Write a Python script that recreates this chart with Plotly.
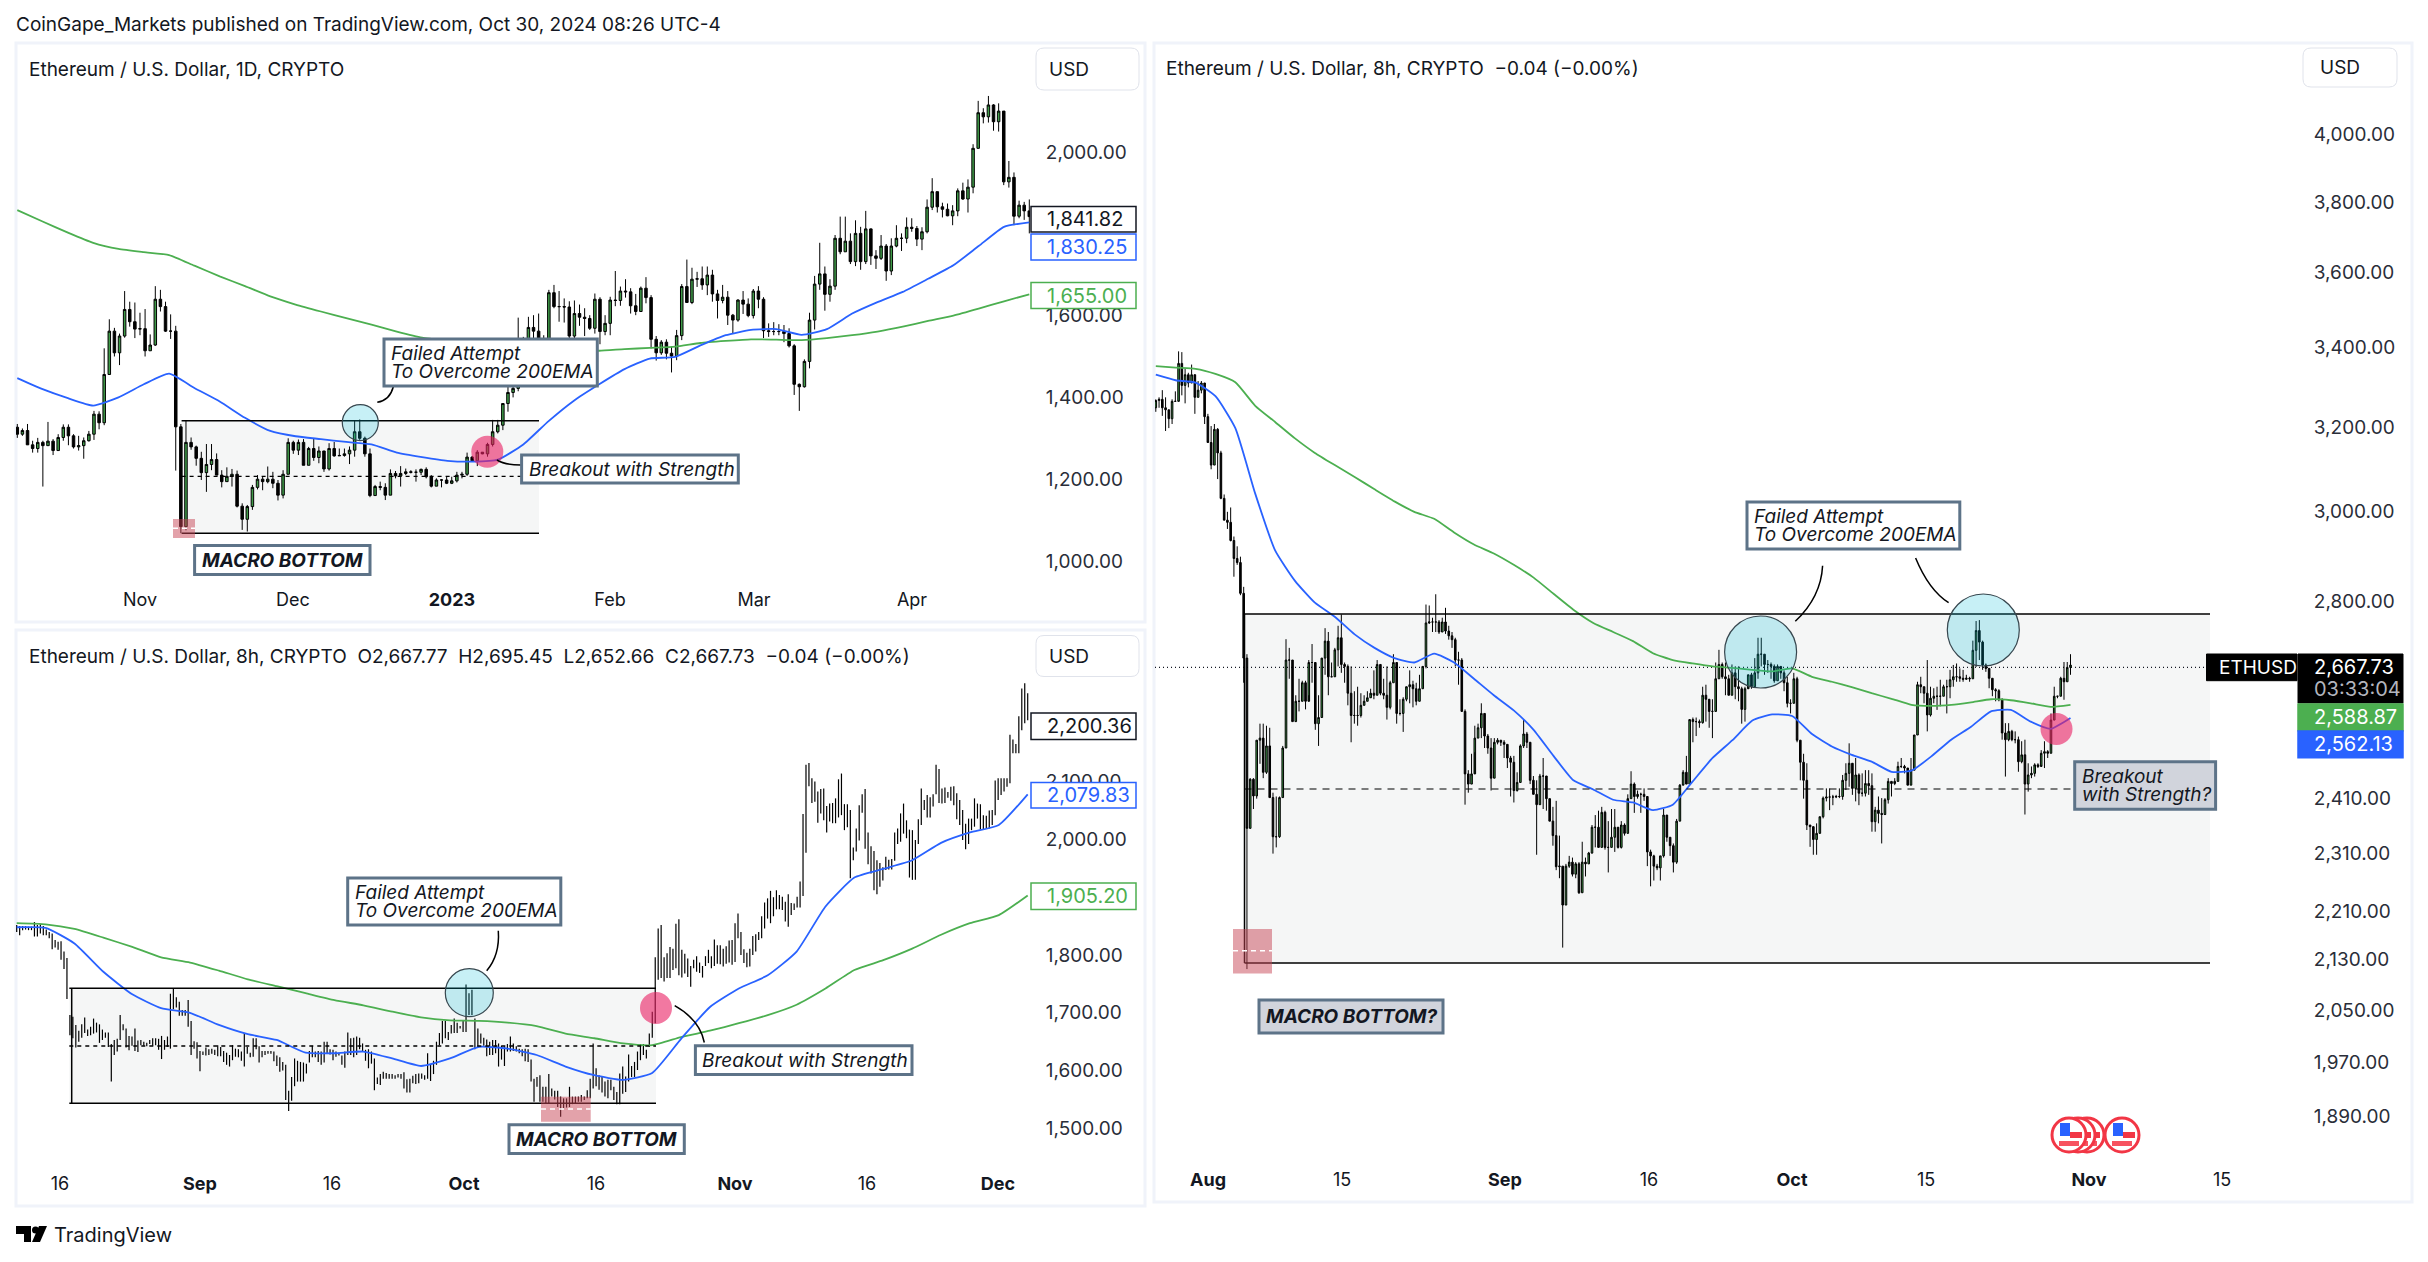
import numpy as np
import plotly.graph_objects as go

W, H = 2428, 1262
font_name = 'Inter, Liberation Sans, sans-serif'
text_color = '#131722'
axis_color = '#2a2e39'
blue = '#2962ff'
green = '#4caf50'
candle_green = '#3f9a48'

# left chart, daily candles (Oct 2022 - Apr 2023)
d1_first_open = 1327
d1_close = [1310,1319,1284,1275,1290,1282,1293,1270,1302,1327,1306,1279,1282,1294,1310,1359,1338,1456,1562,1509,1550,1615,1585,1567,1568,1514,1528,1640,1622,1562,1562,1328,1084,1290,1279,1251,1216,1236,1248,1210,1194,1207,1212,1134,1102,1133,1180,1200,1194,1200,1190,1161,1212,
            1290,1271,1290,1234,1275,1253,1269,1225,1275,1257,1258,1262,1271,1316,1300,1262,1160,1182,1180,1161,1214,1208,1214,1218,1217,1217,1224,1206,1183,1198,1198,1190,1196,1210,1212,1254,1245,1266,1262,1285,1316,1332,1385,1412,1422,1450,1540,1571,1562,1530,1542,
            1656,1622,1622,1621,1550,1605,1596,1593,1569,1640,1561,1581,1638,1637,1660,1658,1624,1610,1667,1644,1542,1509,1535,1508,1501,1551,1671,1632,1689,1690,1675,1699,1653,1637,1645,1601,1589,1638,1628,1600,1660,1640,1563,1561,1561,1561,1556,1526,1432,1426,1488,1589,1677,1702,1652,1672,1789,1756,1782,1732,1801,1732,1812,1746,1740,1770,1709,1770,1789,1789,1816,1813,1787,1805,1865,1903,1866,1860,1844,1856,1905,1885,1914,2009,2096,2086,2115,2074,2100,1927,1938,1843,1870,1856,1842]
d1_high = [1335,1324,1335,1294,1301,1294,1340,1298,1310,1334,1334,1310,1306,1302,1318,1367,1366,1520,1591,1570,1556,1660,1634,1632,1607,1616,1554,1672,1663,1634,1603,1575,1335,1343,1302,1282,1267,1286,1286,1263,1222,1229,1225,1221,1141,1137,1186,1210,1206,1231,1218,1198,1222,
           1300,1294,1297,1298,1279,1300,1280,1269,1288,1291,1275,1275,1280,1343,1346,1304,1275,1186,1194,1190,1224,1220,1232,1226,1222,1224,1226,1229,1210,1202,1200,1206,1206,1218,1218,1265,1257,1271,1266,1289,1345,1345,1385,1426,1430,1595,1548,1597,1601,1605,1552,
           1663,1675,1660,1642,1635,1637,1627,1618,1601,1654,1645,1601,1646,1709,1671,1689,1667,1653,1671,1694,1650,1550,1540,1542,1524,1565,1677,1737,1717,1707,1720,1720,1712,1663,1675,1660,1604,1640,1660,1642,1665,1672,1645,1581,1584,1579,1577,1569,1530,1434,1493,1607,1697,1778,1720,1689,1797,1842,1842,1801,1833,1817,1856,1813,1760,1797,1775,1789,1821,1801,1840,1838,1819,1816,1884,1936,1903,1876,1874,1870,1911,1925,1933,2019,2125,2107,2137,2117,2119,2100,1978,1950,1881,1878,1884]
d1_low = [1301,1306,1284,1265,1265,1182,1282,1259,1270,1294,1283,1275,1270,1250,1292,1296,1322,1332,1456,1500,1479,1546,1573,1545,1552,1500,1514,1526,1610,1560,1543,1221,1068,1075,1272,1233,1198,1169,1222,1210,1180,1194,1182,1131,1076,1072,1125,1175,1173,1190,1178,1148,1153,
          1212,1262,1259,1234,1234,1245,1239,1218,1221,1255,1257,1255,1237,1255,1296,1255,1156,1160,1173,1149,1161,1202,1182,1210,1214,1194,1210,1202,1180,1183,1180,1188,1188,1192,1202,1208,1243,1232,1261,1255,1280,1312,1320,1365,1400,1415,1445,1520,1530,1515,1520,
          1520,1618,1585,1583,1545,1545,1575,1550,1565,1556,1530,1552,1552,1623,1624,1644,1605,1601,1610,1630,1520,1490,1504,1493,1461,1491,1540,1632,1628,1670,1663,1650,1634,1593,1630,1577,1555,1585,1604,1596,1593,1618,1545,1548,1552,1552,1535,1522,1406,1367,1424,1471,1566,1663,1612,1634,1663,1750,1756,1726,1721,1712,1726,1724,1714,1736,1685,1699,1767,1758,1777,1805,1770,1760,1801,1858,1852,1840,1843,1821,1843,1883,1852,1899,2008,2070,2072,2052,2050,1919,1913,1821,1838,1834,1801]
d1_ema50 = [1447,1420,1398,1380,1400,1432,1458,1423,1390,1350,1318,1305,1298,1291,1285,1265,1254,1245,1243,1248,1285,1342,1392,1432,1469,1495,1499,1527,1552,1565,1567,1553,1567,1605,1633,1658,1690,1723,1770,1817,1828]
d1_ema200 = [1858,1830,1803,1778,1763,1755,1748,1722,1696,1672,1647,1627,1610,1594,1578,1561,1546,1538,1531,1525,1520,1517,1514,1514,1518,1521,1524,1533,1538,1542,1541,1540,1545,1552,1561,1573,1587,1600,1617,1635,1652]
d1_ticks = [1000, 1200, 1400, 1600, 2000]
d1_tick_labels = ['Nov', 'Dec', '<b>2023</b>', 'Feb', 'Mar', 'Apr']
d1_tick_px = [140, 293, 452, 610, 754, 912]

# bottom left chart, 8h thin bars (Aug - Dec 2023)
h8_high = [1852,1850,1850,1850,1849,1849,1857,1852,1853,1850,1844,1840,1837,1826,1823,1824,1806,1795,1696,1693,1679,1669,1680,1692,1671,1676,1690,1683,1680,1671,1666,1666,1646,1653,1655,1696,1680,1673,1660,1659,1673,1652,1653,1650,1648,1653,1656,1656,1655,1660,1653,1659,1733,1742,1727,1719,1705,1705,1722,1686,1651,1649,1634,1633,1640,1637,1638,1636,1644,1641,1634,1631,1627,1644,1638,1637,1633,1665,1641,1631,1656,1656,1642,1634,1634,1634,1634,1633,1626,1623,1615,1610,1565,1589,1621,1617,1615,1614,1612,1634,1643,1633,1634,1633,1650,1650,1637,1636,1633,1631,1626,
           1633,1666,1656,1657,1659,1657,1647,1636,1637,1633,1621,1588,1594,1598,1596,1594,1594,1592,1594,1594,1597,1585,1586,1591,1594,1595,1595,1592,1630,1610,1617,1650,1665,1686,1686,1667,1679,1690,1683,1677,1687,1749,1734,1740,1690,1673,1664,1657,1654,1650,1653,1653,1647,1643,1642,1646,1659,1647,1642,1638,1637,1638,1637,1619,1586,1589,1592,1572,1572,1594,1569,1565,1565,1555,1552,1552,1572,1555,1555,1555,1558,1555,1566,1586,1647,1604,1592,1589,1581,1584,1584,1572,1563,1595,1607,1590,1628,1608,1615,1633,1646,1646,1636,1664,1702,1796,1846,1852,
           1796,1803,1814,1811,1854,1862,1809,1802,1794,1781,1792,1798,1787,1781,1798,1809,1798,1827,1817,1817,1811,1815,1825,1826,1855,1872,1840,1810,1804,1811,1833,1836,1840,1867,1891,1898,1911,1900,1912,1904,1901,1892,1905,1890,1889,1901,1927,2044,2129,2132,2106,2100,2083,2087,2088,2058,2062,2063,2071,2104,2114,2061,2061,2051,1986,2019,2059,2078,2087,2012,1988,1980,1964,1959,1952,1970,1965,1966,2012,2019,2045,2062,2033,2017,2016,1999,2035,2088,2068,2077,2073,2078,2129,2122,2088,2090,2082,2091,2092,2080,2068,2051,2027,2036,2036,2071,2062,2061,2042,2041,2050,2051,2102,2106,2106,2106,2106,2181,2173,2165,2213,2261,2270,2253]
h8_low = [1840,1834,1843,1844,1843,1843,1832,1832,1837,1834,1834,1829,1810,1813,1809,1792,1776,1724,1661,1656,1640,1650,1657,1665,1660,1661,1664,1666,1648,1653,1657,1641,1581,1627,1633,1653,1670,1640,1635,1643,1634,1632,1644,1643,1642,1646,1643,1644,1636,1620,1636,1641,1638,1706,1709,1695,1695,1695,1676,1627,1638,1621,1599,1627,1626,1627,1629,1627,1625,1625,1615,1610,1607,1618,1624,1623,1617,1607,1629,1623,1624,1637,1614,1623,1627,1629,1629,1616,1608,1598,1600,1549,1530,1548,1573,1581,1581,1581,1595,1614,1623,1623,1615,1610,1614,1630,1628,1618,1624,1626,1610,
          1605,1627,1627,1623,1627,1637,1633,1617,1604,1612,1566,1577,1575,1586,1586,1586,1586,1586,1588,1586,1569,1562,1562,1578,1577,1578,1586,1584,1586,1582,1594,1610,1644,1647,1656,1653,1664,1665,1665,1673,1667,1667,1696,1696,1637,1641,1647,1643,1625,1627,1627,1630,1607,1619,1608,1633,1633,1634,1633,1630,1625,1616,1615,1581,1546,1572,1546,1546,1543,1543,1555,1550,1537,1520,1535,1536,1537,1542,1543,1546,1546,1549,1552,1552,1569,1573,1567,1562,1555,1552,1566,1549,1542,1542,1560,1563,1581,1589,1589,1601,1618,1627,1621,1641,1657,1682,1757,1760,
          1754,1760,1760,1774,1777,1765,1761,1768,1762,1745,1777,1771,1769,1761,1781,1786,1777,1781,1785,1784,1780,1785,1787,1783,1788,1829,1800,1786,1779,1780,1800,1806,1826,1829,1846,1863,1855,1867,1879,1879,1878,1858,1849,1869,1878,1882,1882,1902,1977,2092,2063,2065,2029,2045,2033,2012,2031,2028,2028,2038,2042,2016,2021,1933,1964,1979,1998,2046,1984,1957,1941,1912,1905,1918,1929,1947,1948,1948,1963,1992,1996,2010,2002,1934,1930,1930,1992,2025,2051,2038,2038,2057,2078,2063,2062,2063,2072,2067,2059,2035,2025,1999,1983,1992,2016,2022,2036,2017,2017,2019,2019,2025,2042,2068,2077,2083,2091,2097,2149,2149,2149,2189,2201,2206]
h8_ema50 = [1848,1847,1820,1771,1732,1708,1700,1679,1663,1653,1631,1630,1633,1621,1608,1621,1641,1638,1627,1607,1592,1584,1596,1655,1710,1742,1765,1806,1884,1934,1949,1964,1994,2012,2025,2078]
h8_ema200 = [1855,1853,1845,1830,1814,1796,1787,1773,1758,1746,1734,1722,1713,1702,1692,1687,1686,1683,1677,1664,1656,1647,1644,1658,1669,1682,1696,1714,1742,1774,1791,1811,1835,1855,1869,1903]
h8_ticks = [1500, 1600, 1700, 1800, 2000, 2100]
h8_tick_labels = ['16', '<b>Sep</b>', '16', '<b>Oct</b>', '16', '<b>Nov</b>', '16', '<b>Dec</b>']
h8_tick_px = [60, 200, 332, 464, 596, 735, 867, 998]

# right chart, 8h candles (Jul - Oct 2024)
r8_first_open = 3247
r8_close = [3265,3268,3247,3242,3220,3263,3263,3359,3303,3330,3309,3330,3273,3291,3309,3225,3162,3108,3194,3137,3030,2980,2975,2934,2894,2885,2818,2682,2355,2445,2414,2519,2523,2458,2508,2411,2340,2340,2411,2504,2678,2678,2555,2595,2595,2632,2595,2673,2673,2551,2563,2682,2717,2644,2644,2699,2724,2669,2665,2611,2567,2567,2567,2587,2595,2602,2611,2607,2669,2611,2607,2583,2632,2673,2571,2571,2599,2624,2628,2620,2595,2620,2665,2755,2757,2757,2757,2736,2757,2738,2728,2720,2678,2678,2575,2455,2436,2455,2523,2543,2571,2527,2504,2447,2515,2519,2515,2511,2485,2477,2424,2439,2508,2531,2515,2443,2417,2398,2451,2451,2409,2368,2342,2287,2288,2221,2288,2295,2274,2292,2242,2295,2292,2311,2357,2357,2321,2384,2321,2321,2339,2357,2321,2361,2346,2409,2436,2413,2417,2417,2413,2313,2306,2288,2285,2306,2379,2339,2324,2295,2368,2434,2458,2436,2559,2555,2555,2553,2607,2599,2575,2575,2640,2669,2644,2640,2607,2652,2624,2620,2579,2620,2648,2624,2652,2690,2690,2669,2669,2665,2636,2665,2652,2632,2591,2591,2640,2519,2477,2443,
            2361,2358,2335,2346,2376,2410,2412,2412,2412,2413,2413,2443,2456,2475,2428,2453,2419,2419,2437,2433,2367,2388,2382,2380,2407,2441,2437,2441,2469,2469,2466,2434,2462,2529,2628,2624,2611,2568,2601,2605,2605,2605,2624,2624,2638,2644,2644,2641,2639,2641,2640,2698,2739,2715,2668,2661,2641,2618,2616,2598,2533,2520,2536,2520,2520,2478,2491,2436,2453,2456,2472,2469,2494,2497,2494,2558,2605,2605,2641,2634,2663,2667.73]
r8_high = [3268,3273,3291,3273,3242,3268,3288,3390,3388,3345,3335,3356,3314,3314,3314,3303,3232,3202,3207,3197,3142,3039,2999,3009,2943,2921,2898,2832,2690,2447,2447,2519,2551,2551,2547,2543,2420,2413,2413,2508,2721,2703,2673,2607,2640,2636,2636,2678,2711,2607,2607,2682,2744,2736,2673,2703,2749,2773,2673,2669,2665,2615,2624,2611,2607,2615,2620,2657,2678,2669,2640,2665,2636,2690,2673,2599,2603,2624,2657,2636,2632,2648,2665,2794,2792,2766,2816,2761,2766,2787,2749,2736,2724,2695,2682,2579,2462,2493,2547,2551,2591,2571,2531,2523,2523,2523,2519,2519,2511,2489,2489,2458,2511,2559,2535,2515,2451,2443,2455,2485,2447,2409,2394,2405,2342,2288,2292,2306,2303,2295,2295,2331,2303,2313,2361,2379,2387,2394,2387,2368,2390,2390,2357,2368,2364,2417,2460,2439,2424,2420,2428,2413,2317,2308,2292,2306,2390,2379,2339,2328,2372,2436,2462,2489,2559,2563,2563,2559,2624,2628,2587,2599,2673,2699,2673,2673,2648,2669,2665,2665,2624,2624,2648,2652,2682,2724,2724,2690,2678,2673,2669,2669,2665,2657,2644,2599,2652,2644,2519,2493,
           2475,2361,2352,2364,2376,2413,2428,2428,2416,2416,2428,2453,2475,2513,2472,2485,2456,2456,2462,2462,2456,2394,2413,2410,2410,2447,2441,2447,2478,2485,2472,2466,2485,2529,2634,2644,2624,2678,2624,2621,2624,2638,2628,2638,2658,2668,2671,2661,2658,2648,2644,2718,2759,2761,2718,2671,2661,2641,2621,2619,2601,2552,2552,2539,2536,2526,2517,2520,2475,2469,2475,2475,2500,2517,2500,2571,2624,2605,2644,2674,2674,2690]
r8_low = [3237,3247,3227,3190,3197,3207,3263,3265,3278,3258,3298,3314,3232,3273,3283,3207,3162,3098,3108,3075,3028,2980,2960,2932,2854,2880,2814,2632,2115,2355,2390,2409,2474,2447,2455,2411,2310,2321,2338,2411,2504,2640,2555,2555,2575,2595,2579,2607,2632,2539,2508,2563,2648,2607,2644,2644,2665,2652,2632,2587,2515,2551,2547,2563,2587,2595,2603,2599,2607,2607,2599,2559,2579,2632,2551,2567,2535,2595,2591,2583,2587,2595,2620,2661,2753,2736,2736,2732,2736,2732,2720,2703,2665,2628,2575,2398,2420,2436,2496,2523,2523,2504,2493,2424,2447,2511,2508,2485,2466,2413,2402,2422,2439,2504,2504,2436,2417,2308,2398,2390,2387,2368,2324,2281,2267,2150,2221,2285,2270,2267,2240,2242,2270,2292,2310,2321,2321,2321,2317,2277,2321,2313,2319,2319,2342,2346,2409,2383,2409,2383,2405,2288,2253,2263,2281,2263,2303,2331,2306,2277,2292,2368,2436,2436,2436,2515,2527,2543,2551,2555,2543,2523,2575,2640,2640,2607,2607,2607,2599,2595,2551,2555,2624,2620,2624,2640,2665,2648,2652,2640,2632,2636,2640,2615,2583,2571,2591,2515,2443,2409,
          2352,2322,2308,2308,2346,2373,2404,2388,2397,2410,2410,2407,2425,2431,2416,2404,2397,2413,2413,2416,2349,2349,2364,2328,2379,2400,2413,2434,2441,2466,2456,2434,2434,2462,2529,2611,2591,2536,2565,2591,2578,2585,2605,2571,2601,2624,2634,2634,2634,2638,2634,2640,2664,2678,2658,2654,2621,2605,2595,2595,2520,2450,2517,2517,2513,2459,2475,2380,2422,2447,2450,2466,2472,2466,2485,2494,2558,2601,2605,2598,2634,2648]
r8_ema50 = [3330,3316,3310,3276,3197,3041,2912,2845,2798,2768,2731,2703,2682,2673,2691,2673,2640,2607,2577,2539,2489,2443,2426,2407,2402,2388,2398,2441,2485,2519,2557,2569,2566,2531,2507,2491,2478,2459,2461,2488,2520,2545,2575,2578,2555,2541,2562]
r8_ema200 = [3352,3348,3345,3332,3311,3252,3212,3172,3137,3108,3080,3051,3023,2999,2983,2952,2925,2905,2880,2852,2817,2783,2755,2736,2717,2692,2678,2671,2665,2662,2658,2655,2661,2644,2634,2623,2611,2600,2588,2586,2588,2593,2599,2597,2591,2584,2588]
r8_ticks = [4000, 3800, 3600, 3400, 3200, 3000, 2800, 2410, 2310, 2210, 2130, 2050, 1970, 1890]
r8_tick_labels = ['<b>Aug</b>', '15', '<b>Sep</b>', '16', '<b>Oct</b>', '15', '<b>Nov</b>', '15']
r8_tick_px = [1208, 1342, 1505, 1649, 1792, 1926, 2089, 2222]


def X(px):
    return px / W


def Y(px):
    return 1 - px / H


shapes = []
annotations = []


def rect(x0, y0, x1, y1, fill='rgba(0,0,0,0)', line='rgba(0,0,0,0)', width=0, layer='above'):
    shapes.append(dict(type='rect', xref='paper', yref='paper', x0=X(x0), x1=X(x1), y0=Y(y0), y1=Y(y1),
                       fillcolor=fill, line=dict(color=line, width=width), layer=layer))


def circle(cx, cy, r, fill, line='rgba(0,0,0,0)', width=0):
    shapes.append(dict(type='circle', xref='paper', yref='paper', x0=X(cx - r), x1=X(cx + r), y0=Y(cy - r), y1=Y(cy + r),
                       fillcolor=fill, line=dict(color=line, width=width), layer='above'))


def hline(x0, x1, y, color='#000000', width=1.5, dash='solid', layer='above'):
    shapes.append(dict(type='line', xref='paper', yref='paper', x0=X(x0), x1=X(x1), y0=Y(y), y1=Y(y),
                       line=dict(color=color, width=width, dash=dash), layer=layer))


def vline(x, y0, y1, color='#000000', width=1.5):
    shapes.append(dict(type='line', xref='paper', yref='paper', x0=X(x), x1=X(x), y0=Y(y0), y1=Y(y1),
                       line=dict(color=color, width=width), layer='above'))


def curve(x0, y0, cx, cy, x1, y1):
    path = f'M {X(x0)} {Y(y0)} Q {X(cx)} {Y(cy)} {X(x1)} {Y(y1)}'
    shapes.append(dict(type='path', xref='paper', yref='paper', path=path, line=dict(color='#000000', width=1.5), layer='above'))


def text(x, y, s, size=19, color=text_color, anchor='left', align='left'):
    annotations.append(dict(xref='paper', yref='paper', x=X(x), y=Y(y), text=s, showarrow=False, xanchor=anchor, yanchor='middle',
                            align=align, font=dict(size=size, color=color, family=font_name)))


def note(x0, y0, x1, y1, lines, fill='#ffffff', size=19, pad=5, bold=False):
    rect(x0, y0, x1, y1, fill=fill, line='#5d7388', width=3)
    mid = (y0 + y1) / 2
    for k, s in enumerate(lines):
        s = f'<i>{s}</i>'
        if bold:
            s = f'<b>{s}</b>'
        text(x0 + pad, mid + (k - (len(lines) - 1) / 2) * 18.5, s, size=size, color='#131722')


def tag(x0, y0, x1, y1, s, color, fill='#ffffff', border=None):
    rect(x0, y0, x1, y1, fill=fill, line=border or color, width=1.5)
    text(x0 + 14, (y0 + y1) / 2, s, size=20, color=color)


def usd_box(x0, y0, x1, y1, tx):
    r = 8
    path = (f'M {X(x0 + r)} {Y(y0)} L {X(x1 - r)} {Y(y0)} Q {X(x1)} {Y(y0)} {X(x1)} {Y(y0 + r)} L {X(x1)} {Y(y1 - r)} '
            f'Q {X(x1)} {Y(y1)} {X(x1 - r)} {Y(y1)} L {X(x0 + r)} {Y(y1)} Q {X(x0)} {Y(y1)} {X(x0)} {Y(y1 - r)} '
            f'L {X(x0)} {Y(y0 + r)} Q {X(x0)} {Y(y0)} {X(x0 + r)} {Y(y0)} Z')
    shapes.append(dict(type='path', xref='paper', yref='paper', path=path, line=dict(color='#e0e3eb', width=1), fillcolor='#ffffff', layer='above'))
    text(tx, (y0 + y1) / 2, 'USD', size=19)


def flag(cx, cy):
    r = 17
    circle(cx, cy, r, '#ffffff', '#f23645', 3)
    rect(cx - 9, cy - 12, cx + 1, cy + 1, fill='#2962ff')
    rect(cx + 1, cy - 3, cx + 13, cy + 3, fill='#f23645')
    rect(cx - 10, cy + 6, cx + 10, cy + 11, fill='#f7525f')


def x_view(first_px, last_px, n, left_px, right_px, tick_px):
    # TradingView's time axis is spaced by bars, so the axis runs on bar numbers
    pitch = (last_px - first_px) / (n - 1)
    view = [(left_px - first_px) / pitch, (right_px - first_px) / pitch]
    ticks = [(p - first_px) / pitch for p in tick_px]
    return view, ticks


def opens(first_open, close):
    return [first_open] + close[:-1]


def candles(close, high, low, first_open, xaxis, yaxis):
    return go.Candlestick(x=np.arange(len(close)), open=opens(first_open, close), high=high, low=low, close=close,
                          xaxis=xaxis, yaxis=yaxis, whiskerwidth=0, showlegend=False,
                          increasing=dict(fillcolor=candle_green, line=dict(color='#000000', width=1)),
                          decreasing=dict(fillcolor='#000000', line=dict(color='#000000', width=1)))


def ema(values, n, color, xaxis, yaxis):
    return go.Scatter(x=np.linspace(0, n - 1, len(values)), y=values, mode='lines', line=dict(color=color, width=1.8, shape='spline', smoothing=0.5),
                      xaxis=xaxis, yaxis=yaxis, showlegend=False, hoverinfo='skip')


fig = go.Figure()

n1 = min(len(d1_close), len(d1_high), len(d1_low))
fig.add_trace(candles(d1_close[:n1], d1_high[:n1], d1_low[:n1], d1_first_open, 'x', 'y'))
fig.add_trace(ema(d1_ema200, n1, green, 'x', 'y'))
fig.add_trace(ema(d1_ema50, n1, blue, 'x', 'y'))

n2 = min(len(h8_high), len(h8_low))
bar_x, bar_y = [], []
for i in range(n2):
    bar_x += [i, i, None]
    bar_y += [h8_low[i], h8_high[i], None]
fig.add_trace(go.Scatter(x=bar_x, y=bar_y, mode='lines', line=dict(color='#000000', width=1.2), xaxis='x2', yaxis='y2',
                         showlegend=False, hoverinfo='skip', connectgaps=False))
fig.add_trace(ema(h8_ema200, n2, green, 'x2', 'y2'))
fig.add_trace(ema(h8_ema50, n2, blue, 'x2', 'y2'))

n3 = min(len(r8_close), len(r8_high), len(r8_low))
fig.add_trace(candles(r8_close[:n3], r8_high[:n3], r8_low[:n3], r8_first_open, 'x3', 'y3'))
fig.add_trace(ema(r8_ema200, n3, green, 'x3', 'y3'))
fig.add_trace(ema(r8_ema50, n3, blue, 'x3', 'y3'))

circle_fill = 'rgba(0,188,212,0.22)'
pink_fill = 'rgba(233,30,99,0.6)'
box_fill = 'rgba(120,123,134,0.07)'
red_fill = 'rgba(200,70,85,0.5)'
failed = ['Failed Attempt', 'To Overcome 200EMA']

# panel frames
rect(16, 43, 1145, 622, line='#f0f3fa', width=3, layer='below')
rect(16, 630, 1145, 1206, line='#f0f3fa', width=3, layer='below')
rect(1154, 43, 2412, 1202, line='#f0f3fa', width=3, layer='below')

# left chart drawings
rect(181.6, 420.7, 539, 533.3, fill=box_fill, layer='below')
hline(181.6, 539, 420.7)
hline(181.6, 539, 533.3)
hline(181.6, 522, 476.3, width=1.3, dash='4px,4px')
rect(173, 519, 195, 538, fill=red_fill)
hline(173, 195, 528.3, color='#ffffff', width=1.5, dash='5px,4px')
circle(360.3, 422.7, 18, circle_fill, '#37474f', 1.2)
circle(487.3, 451.7, 16, pink_fill)
curve(377.3, 402.3, 390, 400, 393.3, 386.7)
curve(497, 460, 505, 465, 520.7, 465)
note(384, 339, 597.3, 386, failed)
note(521.6, 455, 738.3, 483, ['Breakout with Strength'])
note(194.6, 545.6, 370, 574.6, ['MACRO BOTTOM'], bold=True)

# bottom left chart drawings
rect(69.3, 988.3, 656, 1103.3, fill=box_fill, layer='below')
hline(69.3, 656, 988.3)
hline(69.3, 656, 1103.3)
vline(71.7, 988.3, 1103.3)
hline(69.3, 656, 1046, width=1.5, dash='4px,4px')
rect(541, 1096.7, 590.7, 1121.7, fill=red_fill)
hline(541, 590.7, 1109, color='#ffffff', width=1.5, dash='5px,4px')
circle(469.3, 992.7, 24, circle_fill, '#37474f', 1.2)
circle(656, 1008, 16, pink_fill)
curve(498.3, 930.7, 500, 955, 486.7, 970.7)
curve(674.7, 1005.7, 700, 1020, 704.3, 1042.5)
note(347.7, 878, 560.8, 925, failed)
note(695.4, 1045.8, 912, 1074.4, ['Breakout with Strength'])
note(509, 1124.8, 684.3, 1153.4, ['MACRO BOTTOM'], bold=True)

# right chart drawings
rect(1244.5, 614, 2210, 963, fill=box_fill, layer='below')
hline(1244.5, 2210, 614)
hline(1244.5, 2210, 963)
vline(1244.5, 614, 963)
hline(1244.5, 2075, 789, width=1.1, dash='7px,6px')
hline(1155, 2206, 667.3, color='#131722', width=1.3, dash='1px,3px', layer='below')
rect(1233, 929, 1272, 973.6, fill=red_fill)
hline(1233, 1272, 950.8, color='#ffffff', width=1.5, dash='5px,4px')
circle(1760.6, 652, 36, circle_fill, '#37474f', 1.2)
circle(1983.3, 630, 36, circle_fill, '#37474f', 1.2)
circle(2056.5, 729, 16, pink_fill)
curve(1822.6, 565.7, 1821, 597, 1795.3, 621.3)
curve(1915.6, 558, 1928.8, 590, 1948.6, 602.7)
note(1747, 502, 1959.8, 549, failed)
note(2074.7, 761.7, 2215.6, 809.3, ['Breakout', 'with Strength?'], fill='#d1d4dc')
note(1259, 1000, 1443, 1033, ['MACRO BOTTOM?'], fill='#d1d4dc', bold=True)
for fx in [2087, 2078, 2069, 2122]:
    flag(fx, 1135)

# price tags
tag(1031, 206.5, 1136, 232, '1,841.82', '#131722')
tag(1031, 234, 1136, 260, '1,830.25', blue)
tag(1031, 282.5, 1136, 308.6, '1,655.00', green)
tag(1031, 713, 1136, 739.5, '2,200.36', '#131722')
tag(1031, 782.5, 1136, 808, '2,079.83', blue)
tag(1031, 883, 1136, 909.5, '1,905.20', green)
rect(2206.5, 654, 2297, 680.7, fill='#000000', line='#000000', width=1)
text(2217, 667.3, 'ETHUSD', size=19, color='#ffffff')
rect(2298, 654, 2403, 703, fill='#000000', line='#000000', width=1)
text(2312, 667, '2,667.73', size=20, color='#ffffff')
text(2312, 689, '03:33:04', size=20, color='#b2b5be')
tag(2298, 704, 2403, 730.7, '2,588.87', '#ffffff', fill=green, border=green)
tag(2298, 731, 2403, 757.7, '2,562.13', '#ffffff', fill=blue, border=blue)

usd_box(1036, 48, 1139, 90, 1047)
usd_box(1036, 635.5, 1139, 676.5, 1047)
usd_box(2303, 48, 2397, 87, 2318)

# header, titles, footer
text(14, 25, 'CoinGape_Markets published on TradingView.com, Oct 30, 2024 08:26 UTC-4')
text(27, 69, 'Ethereum / U.S. Dollar, 1D, CRYPTO')
text(27, 656, 'Ethereum / U.S. Dollar, 8h, CRYPTO&nbsp;&nbsp;O2,667.77&nbsp;&nbsp;H2,695.45&nbsp;&nbsp;L2,652.66&nbsp;&nbsp;C2,667.73&nbsp;&nbsp;−0.04 (−0.00%)')
text(1164, 68, 'Ethereum / U.S. Dollar, 8h, CRYPTO&nbsp;&nbsp;−0.04 (−0.00%)')
text(52, 1235, 'TradingView', size=20)
shapes.append(dict(type='path', xref='paper', yref='paper', fillcolor='#000000', line=dict(width=0), layer='above',
                   path=f'M {X(16)} {Y(1226)} L {X(31)} {Y(1226)} L {X(31)} {Y(1242)} L {X(24)} {Y(1242)} L {X(24)} {Y(1234)} L {X(16)} {Y(1234)} Z'
                        f' M {X(39)} {Y(1226)} L {X(47)} {Y(1226)} L {X(40)} {Y(1242)} L {X(32)} {Y(1242)} Z'))
circle(35.5, 1230, 3.5, '#000000')

view1, ticks1 = x_view(17.3, 1029.3, n1, 16, 1030, d1_tick_px)
view2, ticks2 = x_view(16.7, 1027.7, n2, 16, 1030, h8_tick_px)
view3, ticks3 = x_view(1155.8, 2070.5, n3, 1155, 2298, r8_tick_px)


def x_axis(view, ticks, labels, left_px, right_px, y_name):
    return dict(domain=[X(left_px), X(right_px)], range=view, anchor=y_name, tickmode='array', tickvals=ticks, ticktext=labels,
                showgrid=False, zeroline=False, showline=False, ticks='', rangeslider=dict(visible=False),
                tickfont=dict(size=18, color=text_color, family=font_name))


def y_axis(rng, ticks, top_px, bottom_px, x_name, kind='linear'):
    return dict(domain=[Y(bottom_px), Y(top_px)], range=rng, anchor=x_name, side='right', type=kind, tickmode='array', tickvals=ticks,
                tickformat=',.2f', showgrid=False, zeroline=False, showline=False, ticks='outside', ticklen=11, tickcolor='rgba(0,0,0,0)',
                tickfont=dict(size=19, color=axis_color, family=font_name))


fig.update_layout(
    width=W, height=H, autosize=False, margin=dict(l=0, r=0, t=0, b=0), paper_bgcolor='#ffffff', plot_bgcolor='rgba(0,0,0,0)',
    xaxis=x_axis(view1, ticks1, d1_tick_labels, 16, 1030, 'y'),
    yaxis=y_axis([936.4, 2266.5], d1_ticks, 43, 587, 'x'),
    xaxis2=x_axis(view2, ticks2, h8_tick_labels, 16, 1030, 'y2'),
    yaxis2=y_axis([1426.3, 2362.3], h8_ticks, 630, 1171, 'x2'),
    xaxis3=x_axis(view3, ticks3, r8_tick_labels, 1155, 2298, 'y3'),
    yaxis3=y_axis([3.25967, 3.63247], r8_ticks, 43, 1167, 'x3', kind='log'),
    shapes=shapes, annotations=annotations, boxgap=0.3,
)

fig.write_html("out.html", config={'displayModeBar': False}, post_script="document.body.style.margin='0';")
